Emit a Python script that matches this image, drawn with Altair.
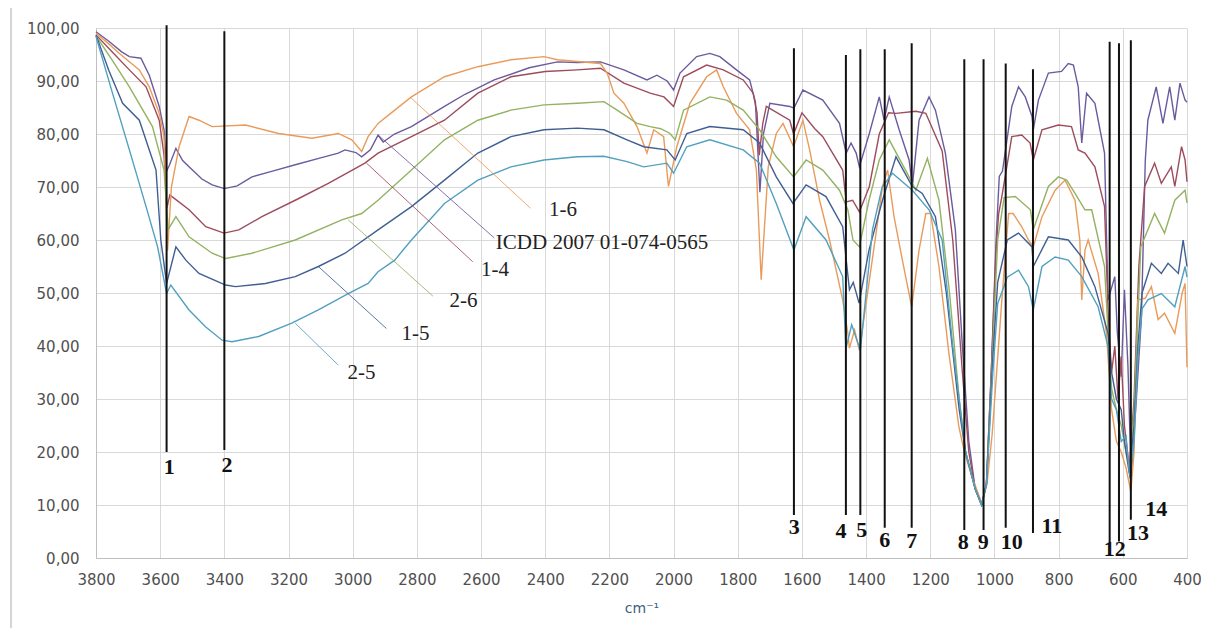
import altair as alt
import pandas as pd

SERIES = ["ICDD 2007 01-074-0565", "1-4", "1-6", "2-6", "1-5", "2-5"]
COLORS = ["#6b5b9e", "#9e4b5c", "#e99b5b", "#93b262", "#3f5f93", "#52a0bf"]

ICDD = [(3800, 99.3), (3760, 97.5), (3720, 95.5), (3696, 94.6), (3660, 94.3), (3634, 91.1), (3603, 85.2),
        (3588, 80.8), (3580, 73), (3572, 74), (3551, 77.3), (3530, 75), (3510, 73.8), (3470, 71.5),
        (3438, 70.4), (3400, 69.7), (3360, 70.2), (3314, 71.9), (3250, 73.0), (3179, 74.2), (3100, 75.5),
        (3045, 76.4), (3024, 77.0), (2990, 76.5), (2972, 75.7), (2945, 77.0), (2921, 79.8), (2905, 78.5),
        (2870, 80.0), (2817, 81.4), (2714, 85.2), (2650, 87.5), (2559, 90.2), (2450, 92.5), (2362, 93.6),
        (2300, 93.5), (2228, 93.6), (2155, 92.1), (2083, 90.2), (2052, 91.1), (2020, 90.0), (2000, 88.3),
        (1980, 91.5), (1928, 94.6), (1887, 95.2), (1856, 94.6), (1804, 92.1), (1763, 90.2), (1745, 86),
        (1731, 69), (1720, 80), (1700, 85.8), (1638, 85.2), (1625, 84.9), (1597, 88.3), (1535, 86.4),
        (1483, 82.0), (1462, 76.4), (1447, 78.3), (1431, 76.4), (1421, 73.8), (1390, 80.1), (1359, 87.0),
        (1344, 82.6), (1328, 87.0), (1297, 80.8), (1266, 75.1), (1256, 70.1), (1235, 82.6), (1204, 87.0),
        (1184, 84.5), (1153, 76.4), (1122, 62), (1100, 40), (1080, 22), (1060, 13), (1040, 10), (1025, 14),
        (1010, 35), (995, 60), (985, 72), (975, 73), (946, 85.2), (925, 88.9), (904, 87.0), (883, 83.3),
        (879, 80.8), (863, 86.4), (832, 91.5), (791, 91.8), (770, 93.3), (754, 93.0), (739, 88.9),
        (728, 78.3), (713, 87.7), (687, 85.8), (657, 76.4), (646, 48.7), (625, 53.1), (617, 42.4),
        (605, 34.2), (595, 50.6), (584, 36.1), (574, 15.3), (558, 29.8), (542, 45.5), (530, 75),
        (522, 82.6), (496, 88.9), (475, 82.0), (454, 88.9), (438, 82.6), (422, 89.6), (406, 86.4), (400, 86)]

S14 = [(3800, 98.7), (3750, 95.5), (3696, 92.1), (3644, 88.9), (3603, 82.6), (3588, 76), (3579, 66),
       (3570, 68.5), (3557, 67.9), (3510, 65.7), (3458, 62.5), (3401, 61.3), (3355, 61.9), (3283, 64.4),
       (3179, 67.5), (3076, 70.7), (2962, 74.5), (2921, 76.4), (2817, 79.5), (2714, 82.6), (2610, 87.7),
       (2507, 90.8), (2400, 91.8), (2300, 92.1), (2228, 92.4), (2155, 89.6), (2073, 87.7), (2030, 87),
       (2000, 85.2), (1969, 90.8), (1897, 93.0), (1845, 92.1), (1783, 90.2), (1752, 87.7), (1740, 84),
       (1733, 76), (1722, 82), (1711, 85.2), (1638, 82.6), (1626, 80), (1600, 84), (1560, 81),
       (1535, 79.5), (1473, 73.2), (1462, 67.2), (1442, 67.5), (1421, 65.3), (1390, 70.1), (1359, 80),
       (1330, 84), (1307, 83.9), (1245, 84.3), (1214, 83.9), (1163, 76.8), (1130, 60), (1100, 35),
       (1080, 20), (1060, 13), (1040, 10), (1025, 14), (1010, 35), (995, 58), (987, 65.0), (977, 68.2),
       (946, 79.5), (915, 79.8), (889, 78.3), (879, 75.1), (852, 80.8), (801, 81.7), (760, 81.4),
       (739, 77.0), (718, 76.4), (687, 73.8), (657, 66.3), (645, 45), (635, 35), (625, 40), (615, 30),
       (605, 38), (595, 25), (580, 17), (565, 30), (550, 55), (532, 70.1), (501, 74.5), (480, 70.7),
       (449, 73.8), (438, 70.1), (417, 77.6), (406, 75.1), (400, 71)]

S16 = [(3800, 99), (3760, 97), (3727, 95.2), (3665, 92.1), (3634, 88.9), (3603, 83.9), (3588, 79.5),
       (3577, 58), (3565, 70), (3541, 77.6), (3510, 83.3), (3479, 82.6), (3438, 81.4), (3334, 81.7),
       (3231, 80.1), (3127, 79.2), (3045, 80.1), (3003, 78.9), (2972, 76.7), (2952, 79.5), (2921, 82.0),
       (2869, 84.5), (2817, 87.0), (2714, 90.8), (2610, 92.7), (2507, 94.0), (2404, 94.6), (2362, 94.0),
       (2228, 93.3), (2207, 91.5), (2186, 87.7), (2155, 85.8), (2114, 81.4), (2083, 76.4), (2062, 80.8),
       (2031, 79.5), (2016, 70.1), (1990, 77.6), (1949, 85.8), (1897, 90.8), (1866, 92.1), (1845, 88.9),
       (1804, 83.9), (1763, 80.8), (1742, 73.2), (1727, 52.5), (1705, 73.8), (1680, 80.1), (1659, 82.0),
       (1626, 77.6), (1597, 82.6), (1576, 77.0), (1545, 67.5), (1514, 60.0), (1473, 48.7), (1457, 42.4),
       (1452, 39.6), (1436, 43.0), (1421, 39.2), (1406, 45.5), (1369, 61.3), (1349, 70.1), (1333, 73.2),
       (1313, 64.4), (1287, 56.2), (1258, 47.4), (1235, 58.1), (1214, 65.0), (1199, 65.0), (1173, 55.0),
       (1142, 38.6), (1111, 24.8), (1093, 19.8), (1070, 15.3), (1039, 10.3), (1023, 14.1), (1007, 23.5),
       (992, 36.1), (977, 48.7), (956, 65.0), (942, 65.0), (915, 62.5), (894, 60.0), (879, 58.7),
       (852, 64.4), (811, 69.4), (780, 71.3), (749, 67.5), (734, 60), (728, 48.7), (718, 58.1),
       (708, 60.0), (677, 53.7), (651, 42.4), (635, 28), (620, 22), (605, 20), (590, 17), (575, 12.5),
       (565, 20), (553, 48.7), (530, 49), (511, 51.2), (490, 45), (470, 46.2), (438, 42.4), (415, 50),
       (406, 51.8), (400, 36)]

S26 = [(3800, 98.5), (3750, 94), (3696, 88.9), (3624, 81.4), (3588, 73.2), (3580, 66.3), (3575, 62),
       (3551, 64.4), (3510, 60.6), (3438, 57.5), (3396, 56.5), (3314, 57.5), (3179, 60.0), (3034, 63.8),
       (2972, 65.0), (2921, 67.5), (2817, 73.2), (2714, 78.9), (2610, 82.6), (2507, 84.5), (2404, 85.5),
       (2300, 85.8), (2217, 86.1), (2176, 84.5), (2114, 82.0), (2073, 81.4), (2040, 81), (2011, 80.1),
       (1995, 78.9), (1969, 84.5), (1887, 87.0), (1835, 86.4), (1783, 84.5), (1732, 80.8), (1680, 75.7),
       (1626, 71.9), (1587, 75.1), (1535, 73.2), (1483, 69.4), (1457, 65.7), (1441, 60.0), (1421, 58.7),
       (1391, 67.5), (1359, 75.1), (1328, 78.9), (1266, 71.9), (1245, 69.4), (1209, 75.4), (1173, 67.5),
       (1140, 50), (1110, 30), (1090, 20), (1060, 13), (1040, 10), (1025, 14), (1005, 40), (990, 60),
       (970, 68), (935, 68.2), (888, 65.7), (879, 62), (832, 70.1), (801, 71.9), (775, 71.3), (749, 68.8),
       (718, 65.7), (697, 65.7), (657, 55.0), (646, 42.4), (635, 32), (620, 28), (605, 25), (590, 20),
       (578, 17), (565, 28), (544, 58.7), (501, 65.0), (470, 61.3), (438, 67.5), (406, 69.4), (400, 67)]

S15 = [(3800, 98.7), (3760, 92), (3717, 85.8), (3665, 82.6), (3613, 73.2), (3598, 60.0), (3580, 51.8),
       (3551, 58.7), (3520, 56.2), (3479, 53.7), (3396, 51.5), (3365, 51.2), (3272, 51.8), (3179, 53.1),
       (3107, 55.0), (3024, 57.5), (2921, 61.9), (2817, 66.3), (2714, 71.3), (2610, 76.4), (2507, 79.5),
       (2404, 80.8), (2300, 81.1), (2217, 80.8), (2145, 78.9), (2093, 77.6), (2021, 77.0), (1995, 75.1),
       (1959, 80.1), (1887, 81.4), (1783, 80.8), (1732, 78.3), (1680, 71.9), (1628, 66.9), (1587, 70.4),
       (1525, 68.2), (1473, 62.5), (1452, 50.6), (1440, 52), (1422, 48.1), (1391, 58.1), (1349, 67.5),
       (1307, 75.7), (1256, 70.1), (1225, 68.8), (1184, 64.4), (1150, 50), (1110, 28), (1090, 20),
       (1060, 13), (1040, 10), (1025, 14), (1005, 38), (990, 52), (960, 60), (925, 61.3), (883, 58.7),
       (879, 55), (832, 60.6), (770, 60.0), (728, 56.8), (687, 51.2), (646, 42.4), (635, 35), (620, 30),
       (605, 28), (595, 22), (580, 16), (565, 25), (553, 40), (540, 50), (511, 55.6), (480, 53.7),
       (459, 55.6), (427, 53.7), (412, 60.0), (400, 55)]

S25 = [(3800, 98.4), (3750, 88), (3696, 77.0), (3644, 66.3), (3608, 58.7), (3580, 49.9), (3567, 51.5),
       (3510, 46.8), (3458, 43.6), (3407, 41.1), (3376, 40.8), (3293, 41.8), (3190, 44.3), (3107, 46.8),
       (3014, 49.9), (2952, 51.8), (2921, 54), (2869, 56.2), (2817, 60), (2714, 66.9), (2610, 71.3),
       (2507, 73.8), (2404, 75.1), (2300, 75.7), (2217, 75.8), (2145, 74.8), (2093, 73.8), (2021, 74.5),
       (2000, 72.6), (1959, 77.6), (1887, 78.9), (1783, 77.0), (1732, 74.5), (1680, 66.9), (1625, 58.1),
       (1587, 64.4), (1525, 60.0), (1473, 53.1), (1463, 39.5), (1445, 44), (1418, 39.2), (1400, 50),
       (1380, 62), (1350, 70), (1318, 72.6), (1256, 69.4), (1204, 65.7), (1163, 60.0), (1130, 40),
       (1100, 25), (1090, 20), (1060, 13), (1040, 10), (1025, 14), (1005, 35), (990, 48), (960, 53),
       (925, 54.3), (894, 51.2), (879, 46.8), (852, 55.0), (811, 56.8), (770, 56.2), (728, 53.1),
       (677, 47.4), (646, 39.9), (635, 30), (620, 28), (605, 22), (590, 23), (578, 15), (565, 22),
       (553, 38), (540, 47), (522, 48.7), (480, 49.9), (438, 47.4), (406, 55.0), (400, 53)]

SPECTRA = {"ICDD 2007 01-074-0565": ICDD, "1-4": S14, "1-6": S16, "2-6": S26, "1-5": S15, "2-5": S25}

# numbered band markers
MARK_ID = ["1", "2", "3", "4", "5", "6", "7", "8", "9", "10", "11", "12", "13", "14"]
MARK_WN = [3580, 3400, 1625, 1463, 1418, 1342, 1258, 1094, 1034, 965, 880, 641, 612, 575]
MARK_TOP = [100.5, 99.4, 96.2, 94.9, 96.0, 96.0, 97.1, 94.1, 94.1, 93.3, 92.2, 97.4, 97.1, 97.7]
MARK_BOTTOM = [20.0, 20.4, 8.1, 8.1, 8.1, 5.7, 5.7, 5.3, 5.3, 5.7, 4.7, 2.8, 3.1, 7.2]
LABEL_WN = [3572, 3392, 1624, 1478, 1414, 1342, 1258, 1097, 1035, 946, 821, 625, 553, 496]
LABEL_T = [17.2, 17.5, 5.8, 5.1, 5.3, 3.4, 3.3, 3.0, 3.0, 3.1, 6.0, 1.7, 4.8, 9.2]

# series call-outs
NOTE_SERIES = ["1-6", "ICDD 2007 01-074-0565", "1-4", "2-6", "1-5", "2-5"]
NOTE_FROM_WN = [2818, 2921, 2957, 3014, 3107, 3179]
NOTE_FROM_T = [86.8, 79.8, 74.5, 63.8, 55.0, 44.3]
NOTE_TO_WN = [2446, 2559, 2626, 2750, 2895, 3045]
NOTE_TO_T = [66.0, 60.4, 55.9, 49.4, 43.3, 36.4]
NOTE_TEXT_WN = [2388, 2554, 2600, 2698, 2848, 3016]
NOTE_TEXT_T = [65.7, 59.4, 54.3, 48.5, 42.2, 35.0]

X_TICKS = list(range(400, 3801, 200))
Y_TICKS = list(range(0, 101, 10))

rows = [{"series": s, "wn": w, "T": t} for s in SERIES for (w, t) in SPECTRA[s]]
spec_df = pd.DataFrame(rows)
mark_df = pd.DataFrame({"id": MARK_ID, "wn": MARK_WN, "top": MARK_TOP, "bottom": MARK_BOTTOM,
                        "lwn": LABEL_WN, "lt": LABEL_T})
note_df = pd.DataFrame({"series": NOTE_SERIES, "x0": NOTE_FROM_WN, "y0": NOTE_FROM_T,
                        "x1": NOTE_TO_WN, "y1": NOTE_TO_T, "tx": NOTE_TEXT_WN, "ty": NOTE_TEXT_T})

x_scale = alt.Scale(domain=[400, 3800], reverse=True, nice=False, zero=False)
y_scale = alt.Scale(domain=[0, 100], nice=False)
color_scale = alt.Scale(domain=SERIES, range=COLORS)

X_AXIS = alt.Axis(values=X_TICKS, format="d", title="cm⁻¹", grid=True, ticks=False,
                  labelPadding=14, titlePadding=14, labelFlush=False)
Y_AXIS = alt.Axis(values=Y_TICKS, title="", grid=True, ticks=False, labelPadding=17,
                  labelExpr="replace(format(datum.value, '.2f'), '.', ',')")


def xq(field):
    return alt.X(field, type="quantitative", scale=x_scale, axis=X_AXIS)


def yq(field):
    return alt.Y(field, type="quantitative", scale=y_scale, axis=Y_AXIS)


lines = alt.Chart(spec_df).mark_line(strokeWidth=1.4).encode(
    x=xq("wn"), y=yq("T"),
    color=alt.Color("series:N", scale=color_scale, legend=None),
)

leaders = alt.Chart(note_df).mark_rule(strokeWidth=1, opacity=0.85).encode(
    x=xq("x0"), x2="x1:Q", y=yq("y0"), y2="y1:Q",
    color=alt.Color("series:N", scale=color_scale, legend=None),
)

note_text = alt.Chart(note_df).mark_text(align="left", baseline="middle", font="Liberation Serif",
                                         fontSize=21, color="#222222").encode(
    x=xq("tx"), y=yq("ty"), text="series:N",
)

mark_rules = alt.Chart(mark_df).mark_rule(color="#111111", strokeWidth=2).encode(
    x=xq("wn"), y=yq("top"), y2="bottom:Q",
)

mark_text = alt.Chart(mark_df).mark_text(align="center", baseline="middle", font="Liberation Serif",
                                         fontWeight="bold", fontSize=22, color="#111111").encode(
    x=xq("lwn"), y=yq("lt"), text="id:N",
)

frame = alt.Chart(mark_df).mark_rule(color="#d4d4d4", strokeWidth=1).encode(
    x=alt.value(-85), y=alt.value(-20), y2=alt.value(600)
)

chart = alt.layer(lines, leaders, mark_rules, mark_text, note_text, frame).properties(
    width=1091, height=530,
    padding={"left": 88, "top": 20, "right": 14, "bottom": 70},
    autosize=alt.AutoSizeParams(type="none"),
).configure_view(stroke=None).configure_axis(
    gridColor="#d9d9d9", gridWidth=1, domainColor="#bfbfbf", domainWidth=1,
    labelFont="DejaVu Sans", labelFontSize=15, labelColor="#505050",
    titleFont="DejaVu Sans", titleFontSize=14, titleFontWeight="normal", titleColor="#3d5f80",
)

chart.save("out.html", embed_options={"renderer": "svg", "actions": False})
